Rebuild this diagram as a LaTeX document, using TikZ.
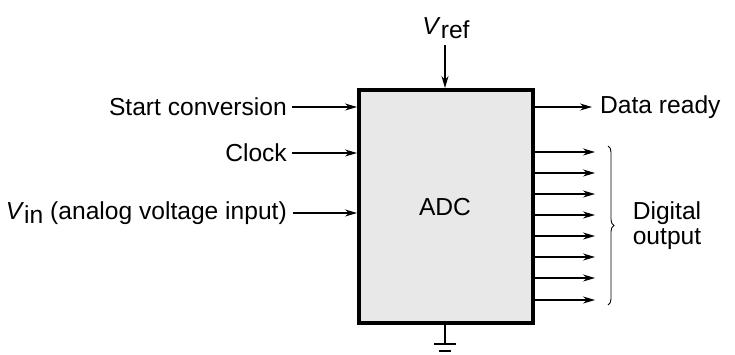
\documentclass[tikz,border=0pt]{standalone}
\usepackage{fontspec}
\setmainfont{Liberation Sans}
\usetikzlibrary{arrows.meta,decorations.pathreplacing}
\begin{document}
\begin{tikzpicture}[x=1pt,y=-1pt,
  lbl/.style={font=\fontsize{24.6}{28}\selectfont, inner sep=0pt},
  sig/.style={line width=1.2pt,-{Stealth[length=12pt,width=7pt]}},
  box/.style={draw, line width=3.8pt, fill=black!9}]
\useasboundingbox (0,0) rectangle (735,354);
\node[box, minimum width=174pt, minimum height=233pt, anchor=north west, inner sep=0pt] (adc) at (357,88) {};
\node[lbl] (adct) at (445,207) {ADC};
% Vref
\node[lbl] (vref) at (446,28) {\textit{V}\raisebox{-0.35ex}{ref}};
\coordinate (vreft) at (445,45);
\draw[sig] (vreft) -- (vreft |- adc.north);
% inputs
\node[lbl, anchor=east] (start) at (287,107) {Start conversion};
\node[lbl, anchor=east] (clock) at (287,153) {Clock};
\node[lbl, anchor=east] (vin) at (287,213) {\textit{V}\raisebox{-0.35ex}{in} (analog voltage input)};
\coordinate (s0) at (292,107);
\coordinate (c0) at (292,153);
\coordinate (v0) at (293,213);
\draw[sig] (s0) -- (s0 -| adc.west);
\draw[sig] (c0) -- (c0 -| adc.west);
\draw[sig] (v0) -- (v0 -| adc.west);
% data ready
\node[lbl, anchor=west] (dr) at (600,107) {Data ready};
\coordinate (dr0) at (592,107);
\draw[sig] (dr0 -| adc.east) -- (dr0);
% digital outputs
\foreach \i/\y in {1/152,2/173,3/194,4/215,5/236,6/257,7/278,8/300}{
  \coordinate (o\i) at (595,\y);
  \draw[sig] (o\i -| adc.east) -- (o\i);
}
\coordinate (bt) at (608,146);
\coordinate (bb) at (608,305);
\draw[line width=0.9pt, decorate, decoration={brace, amplitude=6pt}] (bt) -- (bb);
\node[lbl, align=center] (dig) at (667,226) {Digital\\[-3pt]output};
% ground
\coordinate (g0) at (445,344);
\coordinate (gl) at (434,344);
\coordinate (gr) at (456,344);
\coordinate (hl) at (439,351);
\coordinate (hr) at (451,351);
\draw[line width=1.2pt] (adc.south -| g0) -- (g0);
\draw[line width=1.2pt] (gl) -- (gr);
\draw[line width=1.2pt] (hl) -- (hr);
\end{tikzpicture}
\end{document}
